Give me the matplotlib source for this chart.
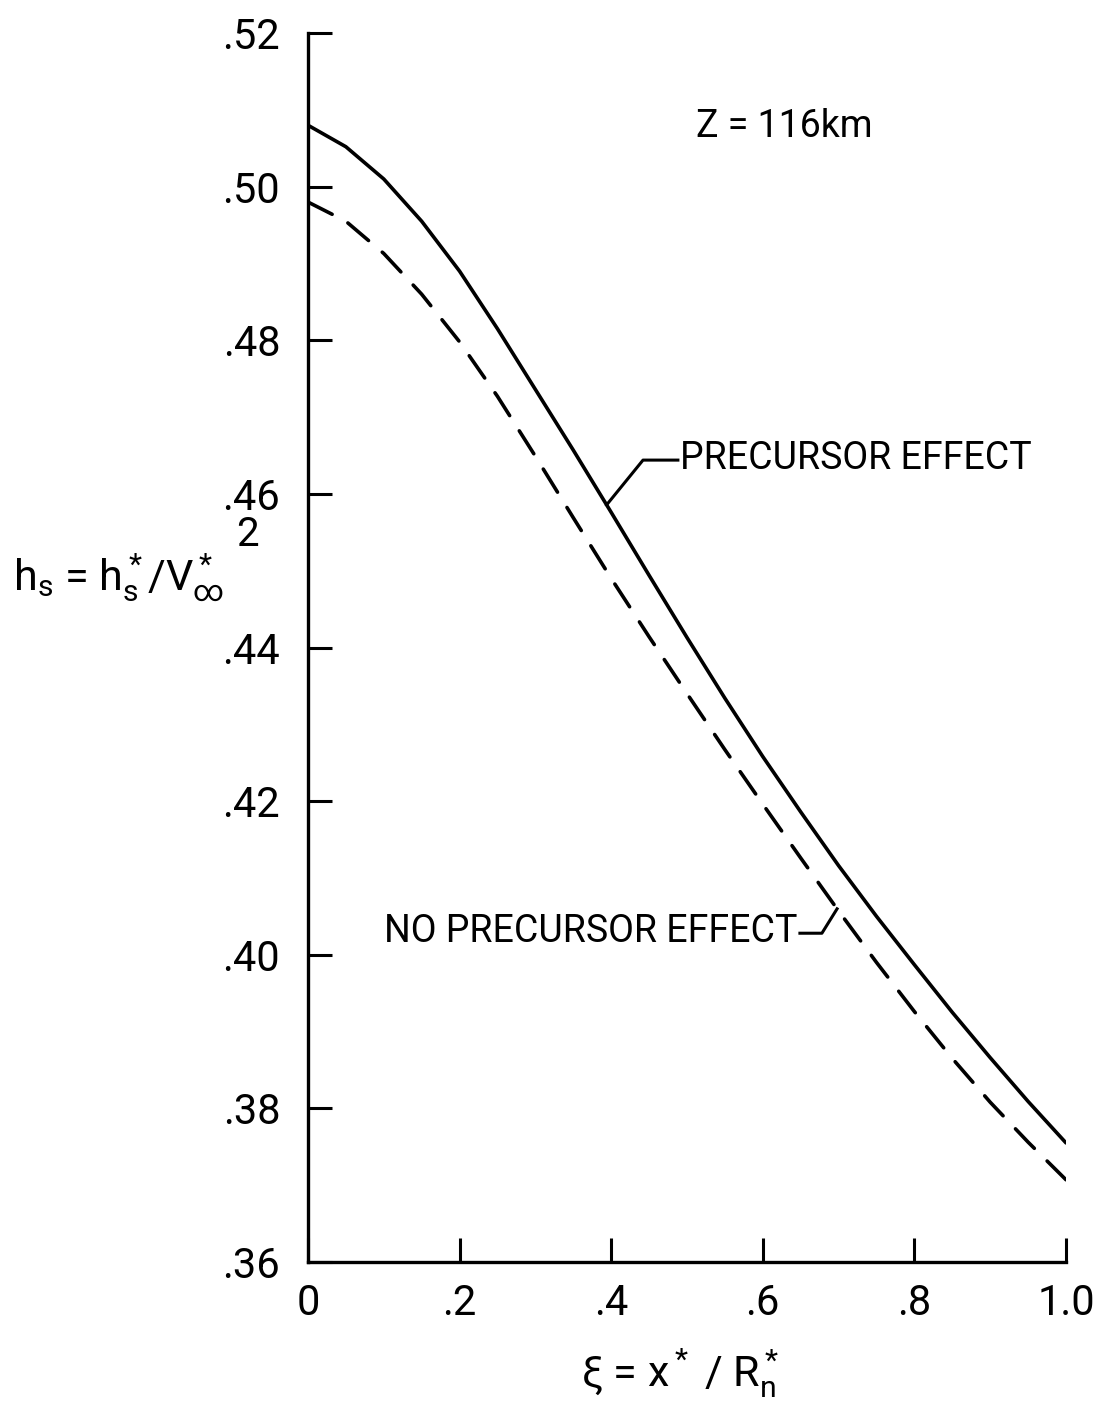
import numpy as np
import matplotlib
matplotlib.use("Agg")
import matplotlib.pyplot as plt
from matplotlib import font_manager

# stagnation-line enthalpy vs. body position, Z = 116 km
xi = [0.0, 0.05, 0.10, 0.15, 0.20, 0.25, 0.30, 0.35, 0.40, 0.45, 0.50,
      0.55, 0.60, 0.65, 0.70, 0.75, 0.80, 0.85, 0.90, 0.95, 1.0]
hs_precursor = [0.5080, 0.5052, 0.5010, 0.4955, 0.4890, 0.4815, 0.4736, 0.4657,
                0.4576, 0.4494, 0.4413, 0.4334, 0.4258, 0.4186, 0.4116, 0.4050,
                0.3987, 0.3925, 0.3866, 0.3809, 0.3755]
hs_no_precursor = [0.4980, 0.4955, 0.4913, 0.4860, 0.4798, 0.4727, 0.4649, 0.4569,
                   0.4490, 0.4414, 0.4340, 0.4267, 0.4196, 0.4126, 0.4057, 0.3990,
                   0.3926, 0.3865, 0.3808, 0.3756, 0.3707]

x_ticks = [0.0, 0.2, 0.4, 0.6, 0.8, 1.0]
x_tick_labels = ["0", ".2", ".4", ".6", ".8", "1.0"]
y_ticks = [0.36, 0.38, 0.40, 0.42, 0.44, 0.46, 0.48, 0.50, 0.52]
y_tick_labels = [".36", ".38", ".40", ".42", ".44", ".46", ".48", ".50", ".52"]

# pick a narrow lettering-like font if there is one
names = {f.name for f in font_manager.fontManager.ttflist}
fam = "DejaVu Sans"
for cand in ["Liberation Sans Narrow", "DejaVu Sans Condensed", "Roboto", "Liberation Sans"]:
    if cand in names:
        fam = cand
        break

plt.rcParams["font.family"] = [fam, "DejaVu Sans"]
plt.rcParams["mathtext.fontset"] = "custom"
plt.rcParams["mathtext.rm"] = fam
plt.rcParams["mathtext.it"] = fam
plt.rcParams["mathtext.sf"] = fam

fig = plt.figure(figsize=(10.94, 14.13), dpi=100)
ax = fig.add_axes([0.2815, 0.1069, 0.6929, 0.8697])

lw = 2.6
ax.plot(xi, hs_precursor, color="black", lw=lw, solid_capstyle="round",
        solid_joinstyle="round")
ax.plot(xi, hs_no_precursor, color="black", lw=lw, linestyle=(0, (7.5, 5)),
        dash_capstyle="round")

ax.set_xlim(0, 1.0)
ax.set_ylim(0.36, 0.52)
ax.set_xticks(x_ticks)
ax.set_xticklabels(x_tick_labels)
ax.set_yticks(y_ticks)
ax.set_yticklabels(y_tick_labels)
for s in ["top", "right"]:
    ax.spines[s].set_visible(False)
for s in ["left", "bottom"]:
    ax.spines[s].set_linewidth(2.4)
ax.tick_params(axis="both", direction="in", length=17, width=2.2, labelsize=30)
ax.tick_params(axis="y", pad=20)
ax.tick_params(axis="x", pad=15)

# leader for the precursor curve
x0 = 0.394
y0 = np.interp(x0, xi, hs_precursor)
ax.plot([x0, 0.442, 0.488], [y0, 0.4644, 0.4644], color="black", lw=2.2)
ax.text(0.491, 0.4646, "PRECURSOR EFFECT", fontsize=27, va="center", ha="left")

# leader for the no-precursor curve
x1 = 0.698
y1 = np.interp(x1, xi, hs_no_precursor)
ax.plot([x1, 0.678, 0.649], [y1, 0.4028, 0.4028], color="black", lw=2.2)
ax.text(0.645, 0.4030, "NO PRECURSOR EFFECT", fontsize=27, va="center", ha="right")

ax.text(0.745, 0.5078, "Z = 116km", fontsize=27, va="center", ha="right")

# axis titles
fig.text(0.012, 1 - 590 / 1413, r"h$_s$ = h$^*_s$/V$^*_\infty$", fontsize=31,
         va="baseline", ha="left")
fig.text(236 / 1094, 1 - 546 / 1413, "2", fontsize=29, va="baseline", ha="left")
fig.text(680 / 1094, 1 - 1387 / 1413, r"$\xi$ = x$^*$ / R$^*_n$", fontsize=31,
         va="baseline", ha="center")

fig.savefig("out.png", dpi=100)
